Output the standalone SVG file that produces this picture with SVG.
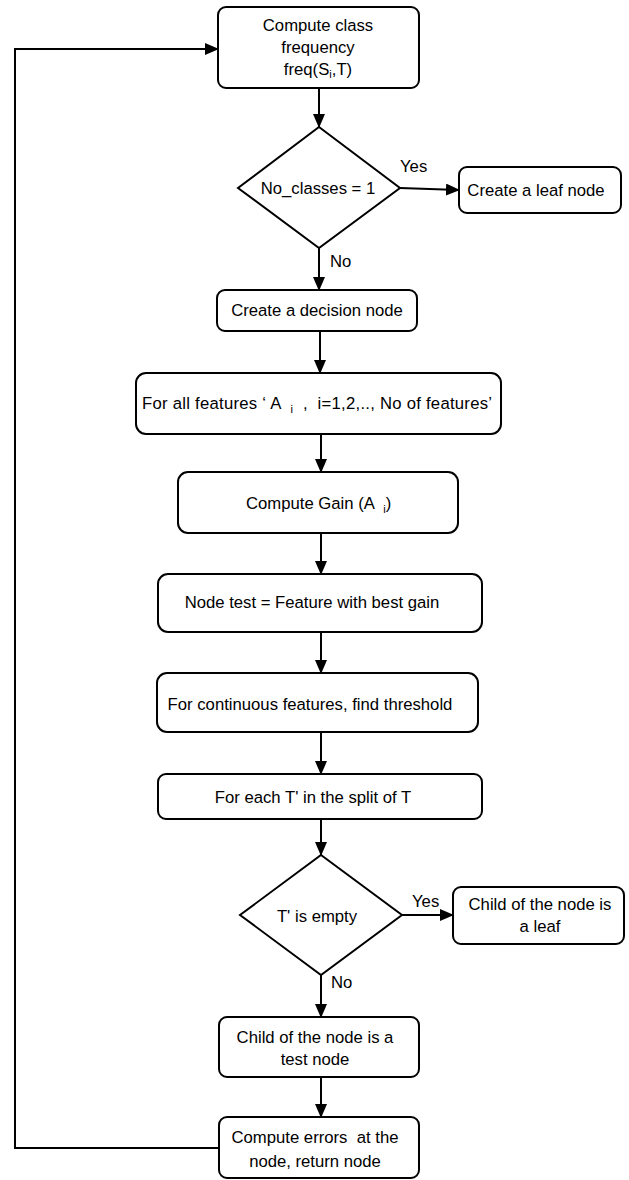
<svg xmlns="http://www.w3.org/2000/svg" width="629" height="1180" viewBox="0 0 629 1180">
<style>
  .box { fill: #fff; stroke: #000; stroke-width: 2; }
  .t { font-family: "Liberation Sans", Arial, sans-serif; font-size: 16.7px; fill: #000; white-space: pre; }
  .c { text-anchor: middle; }
  .sub { font-size: 11px; }
  .edge { fill: none; stroke: #000; stroke-width: 2; }
</style>
<defs>
  <marker id="arr" markerWidth="14" markerHeight="12" refX="13" refY="6" orient="auto" markerUnits="userSpaceOnUse">
    <path d="M0,0 L14,6 L0,12 Z" fill="#000"/>
  </marker>
</defs>
<rect width="629" height="1180" fill="#fff"/>

<g id="connectors">
  <line class="edge" x1="319" y1="88" x2="319" y2="127" marker-end="url(#arr)"/>
  <line class="edge" x1="400" y1="188" x2="459" y2="190" marker-end="url(#arr)"/>
  <line class="edge" x1="319" y1="248" x2="319" y2="290" marker-end="url(#arr)"/>
  <line class="edge" x1="320" y1="331" x2="320" y2="373" marker-end="url(#arr)"/>
  <line class="edge" x1="321" y1="434" x2="321" y2="472" marker-end="url(#arr)"/>
  <line class="edge" x1="321" y1="533" x2="321" y2="574" marker-end="url(#arr)"/>
  <line class="edge" x1="321" y1="632" x2="321" y2="673" marker-end="url(#arr)"/>
  <line class="edge" x1="321" y1="732" x2="321" y2="774" marker-end="url(#arr)"/>
  <line class="edge" x1="321" y1="819" x2="321" y2="855" marker-end="url(#arr)"/>
  <line class="edge" x1="402" y1="915" x2="453" y2="915" marker-end="url(#arr)"/>
  <line class="edge" x1="321" y1="975" x2="321" y2="1017" marker-end="url(#arr)"/>
  <line class="edge" x1="321" y1="1077" x2="321" y2="1117" marker-end="url(#arr)"/>
  <polyline class="edge" points="219,1148 15,1148 15,49 218,49" marker-end="url(#arr)"/>
  <text class="t" x="400" y="172">Yes</text>
  <text class="t" x="330" y="267">No</text>
  <text class="t" x="412" y="907">Yes</text>
  <text class="t" x="331" y="988">No</text>
</g>

<g id="n1">
  <rect class="box" x="218" y="7" width="201" height="81" rx="8"/>
  <text class="t c" x="318" y="31">Compute class</text>
  <text class="t c" x="318" y="53">frequency</text>
  <text class="t c" x="318" y="75">freq(S<tspan class="sub" dy="3">i</tspan><tspan dy="-3">,T)</tspan></text>
</g>

<g id="n2">
  <polygon class="box" points="319,127 400,188 319,248 238,188"/>
  <text class="t c" x="318" y="194">No_classes = 1</text>
</g>

<g id="n3">
  <rect class="box" x="459" y="167" width="162" height="46" rx="8"/>
  <text class="t c" x="536" y="196">Create a leaf node</text>
</g>

<g id="n4">
  <rect class="box" x="217" y="290" width="200" height="41" rx="8"/>
  <text class="t c" x="317" y="316">Create a decision node</text>
</g>

<g id="n5">
  <rect class="box" x="136" y="373" width="365" height="61" rx="10"/>
  <text class="t" x="142" y="409" textLength="350" lengthAdjust="spacing">For all features ‘ A  <tspan class="sub" dy="4">i</tspan><tspan dy="-4">  ,  i=1,2,.., No of features’</tspan></text>
</g>

<g id="n6">
  <rect class="box" x="178" y="472" width="280" height="61" rx="10"/>
  <text class="t" x="246" y="509">Compute Gain (A  <tspan class="sub" dy="4">i</tspan><tspan dy="-4">)</tspan></text>
</g>

<g id="n7">
  <rect class="box" x="158" y="574" width="324" height="58" rx="10"/>
  <text class="t c" x="312" y="608">Node test = Feature with best gain</text>
</g>

<g id="n8">
  <rect class="box" x="157" y="673" width="321" height="59" rx="10"/>
  <text class="t c" x="310" y="710">For continuous features, find threshold</text>
</g>

<g id="n9">
  <rect class="box" x="158" y="774" width="324" height="45" rx="8"/>
  <text class="t c" x="313" y="803">For each T' in the split of T</text>
</g>

<g id="n10">
  <polygon class="box" points="321,855 402,915 321,975 240,915"/>
  <text class="t c" x="317" y="922">T' is empty</text>
</g>

<g id="n11">
  <rect class="box" x="453" y="887" width="171" height="57" rx="8"/>
  <text class="t c" x="540" y="910">Child of the node is</text>
  <text class="t c" x="540" y="932">a leaf</text>
</g>

<g id="n12">
  <rect class="box" x="219" y="1017" width="200" height="60" rx="8"/>
  <text class="t c" x="315" y="1043">Child of the node is a</text>
  <text class="t c" x="315" y="1065">test node</text>
</g>

<g id="n13">
  <rect class="box" x="219" y="1117" width="200" height="61" rx="8"/>
  <text class="t c" x="315" y="1143">Compute errors  at the</text>
  <text class="t c" x="315" y="1167">node, return node</text>
</g>
</svg>
